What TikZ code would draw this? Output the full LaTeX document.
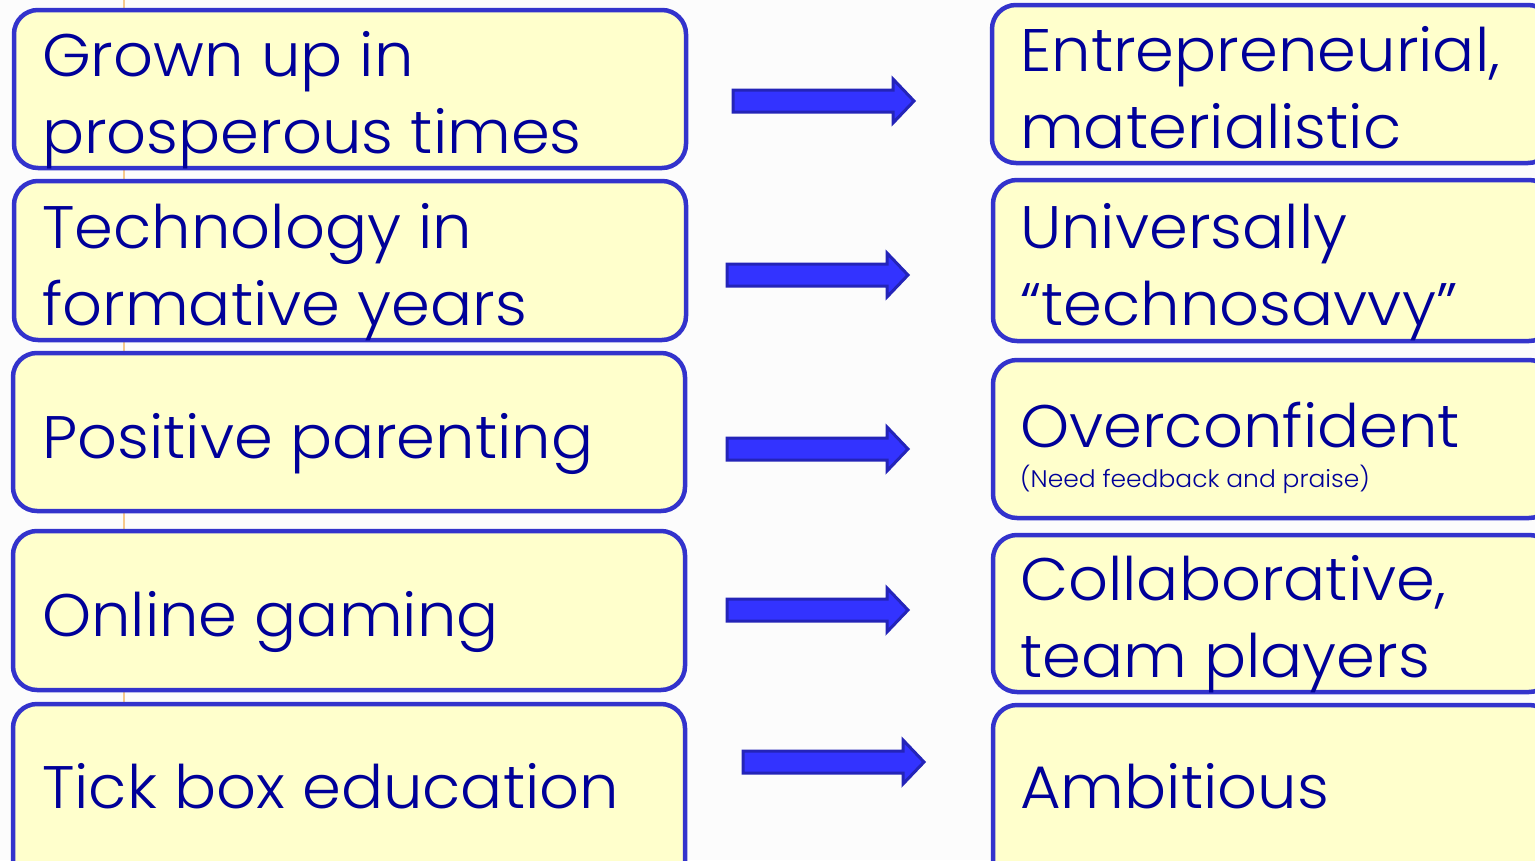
\documentclass[tikz,border=0pt]{standalone}
\usepackage{fontspec}
\setmainfont{Poppins Light}[FakeStretch=1.04]
\definecolor{pagebg}{HTML}{FCFCFC}
\definecolor{boxfill}{HTML}{FFFFCC}
\definecolor{boxedge}{HTML}{3333CC}
\definecolor{txt}{HTML}{000099}
\definecolor{arrowfill}{HTML}{3333FF}
\definecolor{arrowedge}{HTML}{2424B8}
\definecolor{guide}{HTML}{F6C98C}
\newcommand\twolines[2]{\vtop{\baselineskip=77pt\hbox{#1}\hbox{#2}}}
\tikzset{
  card/.style={draw=boxedge, line width=4.5pt, fill=boxfill, rounded corners=24pt,
    inner sep=0pt, minimum width=#1},
  card/.default=672pt,
  label/.style={anchor=base west, inner sep=0pt, text=txt,
    font=\fontsize{60}{77}\selectfont},
  note/.style={anchor=base west, inner sep=0pt, text=txt,
    font=\fontsize{24}{28}\selectfont},
  blockarrow/.style={draw=arrowedge, line width=3pt, fill=arrowfill, line join=miter},
}
\begin{document}
\begin{tikzpicture}[x=1pt, y=-1pt]
  \useasboundingbox (0,0) rectangle (1535,860);
  \clip (0,0) rectangle (1535,860);
  \fill[pagebg] (0,0) rectangle (1535,860);
  % thin guide line running behind the left column
  \coordinate (gtop) at (124,0);
  \coordinate (gbot) at (124,720);
  \draw[guide, line width=2pt] (gtop) -- (gbot);

  % left column: causes
  \node[card, minimum height=158pt] (l1) at (350,89) {};
  \node[card, minimum height=159pt] (l2) at (350,260.5) {};
  \node[card, minimum height=158pt] (l3) at (349,432) {};
  \node[card, minimum height=159pt] (l4) at (349,610.5) {};
  \node[card, minimum height=200pt] (l5) at (349,804) {};

  % right column: traits
  \node[card=560pt, minimum height=158pt] (r1) at (1272,84) {};
  \node[card=560pt, minimum height=161pt] (r2) at (1273,260.5) {};
  \node[card=560pt, minimum height=158pt] (r3) at (1273,439) {};
  \node[card=560pt, minimum height=157pt] (r4) at (1273,613.5) {};
  \node[card=560pt, minimum height=200pt] (r5) at (1273,805) {};

  % texts
  \node[label] (t1) at (42,76) {\twolines{Grown up in}{prosperous times}};
  \node[label] (t2) at (42,248) {\twolines{Technology in}{formative years}};
  \node[label] (t3) at (42,458) {Positive parenting};
  \node[label] (t4) at (42,636) {Online gaming};
  \node[label] (t5) at (42,808) {Tick box education};

  \node[label] (s1) at (1020,71) {\twolines{Entrepreneurial,}{materialistic}};
  \node[label] (s2) at (1020,248) {\twolines{Universally}{“technosavvy”}};
  \node[label] (s3) at (1020,447) {Overconfident};
  \node[note] (s3b) at (1020,487) {(Need feedback and praise)};
  \node[label] (s4) at (1020,600) {\twolines{Collaborative,}{team players}};
  \node[label] (s5) at (1020,808) {Ambitious};

  % block arrows between the columns
  \coordinate (a1) at (733,101);
  \coordinate (a2) at (727,275);
  \coordinate (a3) at (727,449);
  \coordinate (a4) at (727,610);
  \coordinate (a5) at (743,762);
  \foreach \a in {a1,a2,a3,a4,a5}{
    \draw[blockarrow, shift={(\a)}]
      (0,-11) -- (160,-11) -- (160,-22) -- (181,0) -- (160,22) -- (160,11) -- (0,11) -- cycle;
  }
\end{tikzpicture}
\end{document}
